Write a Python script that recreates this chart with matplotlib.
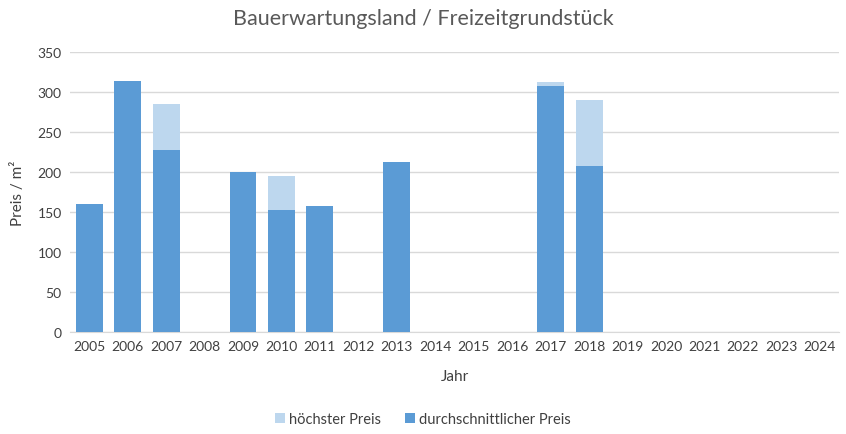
import matplotlib
matplotlib.use("Agg")
import matplotlib.pyplot as plt
import numpy as np

years = [str(y) for y in range(2005, 2025)]
hoechster = [160, 314, 285, 0, 200, 195, 158, 0, 213, 0, 0, 0, 312, 290, 0, 0, 0, 0, 0, 0]
durchschnitt = [160, 314, 227, 0, 200, 152, 158, 0, 213, 0, 0, 0, 308, 208, 0, 0, 0, 0, 0, 0]
yticks = [0, 50, 100, 150, 200, 250, 300, 350]

plt.rcParams['font.family'] = ['Lato', 'DejaVu Sans']

fig = plt.figure(figsize=(8.46, 4.35), dpi=100)
ax = fig.add_axes([70/846, 1-333/435, 769/846, 280/435])

x = np.arange(len(years))
w = 0.7
b1 = ax.bar(x, hoechster, width=w, color='#BDD7EE', label='höchster Preis', zorder=2)
b2 = ax.bar(x, durchschnitt, width=w, color='#5B9BD5', label='durchschnittlicher Preis', zorder=3)

ax.set_xlim(-0.5, len(years) - 0.5)
ax.set_ylim(0, 350)
ax.set_yticks(yticks)
ax.set_xticks(x)
ax.set_xticklabels(years)
ax.grid(axis='y', color='#D9D9D9', linewidth=1, zorder=0)
for s in ['top', 'right', 'left']:
    ax.spines[s].set_visible(False)
ax.spines['bottom'].set_color('#D9D9D9')
ax.tick_params(axis='both', length=0, labelsize=10, colors='#404040', pad=6)

ax.set_xlabel('Jahr', fontsize=11, color='#404040', labelpad=12)
ax.set_ylabel('Preis / m²', fontsize=11, color='#404040', labelpad=9)
fig.text(0.5, 1-19/435, 'Bauerwartungsland / Freizeitgrundstück', ha='center', va='center',
         fontsize=15.5, color='#595959')

fig.legend(handles=[b1, b2], loc='center', bbox_to_anchor=(0.5, 1-420/435), ncol=2,
           frameon=False, fontsize=10.5, labelcolor='#404040', handlelength=0.7,
           handleheight=0.7, handletextpad=0.3, columnspacing=1.6)

fig.savefig('out.png', dpi=100)
